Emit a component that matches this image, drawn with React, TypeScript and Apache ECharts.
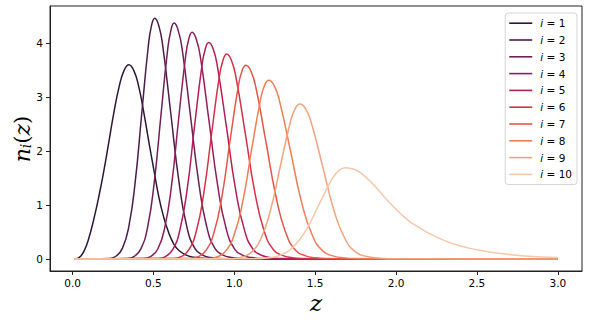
import React, { useEffect, useRef } from "react";
import * as echarts from "echarts";

type Pt = [number, number];

const binNames = ["i = 1", "i = 2", "i = 3", "i = 4", "i = 5", "i = 6", "i = 7", "i = 8", "i = 9", "i = 10"];

const bin1: Pt[] = [[0.01, 0], [0.03, 0.01], [0.05, 0.05], [0.075, 0.17], [0.1, 0.38], [0.13, 0.72], [0.164, 1.18], [0.195, 1.66], [0.225, 2.18], [0.256, 2.72], [0.287, 3.18], [0.318, 3.49], [0.348, 3.6], [0.379, 3.49], [0.41, 3.18], [0.44, 2.72], [0.471, 2.18], [0.502, 1.66], [0.532, 1.17], [0.563, 0.78], [0.594, 0.49], [0.625, 0.28], [0.656, 0.16], [0.7, 0.075], [0.75, 0.03], [0.8, 0.012], [0.9, 0.003], [1.0, 0], [3.0, 0]];
const bin2: Pt[] = [[0.01, 0], [0.228, 0.01], [0.268, 0.05], [0.308, 0.196], [0.348, 0.603], [0.388, 1.448], [0.428, 2.705], [0.468, 3.936], [0.488, 4.323], [0.508, 4.46], [0.533, 4.323], [0.558, 3.936], [0.607, 2.705], [0.657, 1.448], [0.706, 0.603], [0.756, 0.196], [0.805, 0.07], [0.855, 0.025], [0.904, 0.01], [1.0, 0.003], [3.0, 0]];
const bin3: Pt[] = [[0.01, 0], [0.341, 0.01], [0.382, 0.049], [0.423, 0.192], [0.464, 0.591], [0.505, 1.419], [0.546, 2.65], [0.587, 3.857], [0.608, 4.235], [0.628, 4.37], [0.653, 4.235], [0.679, 3.857], [0.729, 2.65], [0.78, 1.419], [0.83, 0.591], [0.881, 0.192], [0.931, 0.07], [0.982, 0.026], [1.032, 0.01], [1.15, 0.003], [3.0, 0]];
const bin4: Pt[] = [[0.01, 0], [0.441, 0.009], [0.484, 0.047], [0.527, 0.184], [0.569, 0.568], [0.612, 1.364], [0.654, 2.547], [0.697, 3.707], [0.718, 4.071], [0.739, 4.2], [0.765, 4.071], [0.792, 3.707], [0.844, 2.547], [0.897, 1.364], [0.949, 0.568], [1.002, 0.184], [1.054, 0.067], [1.107, 0.025], [1.159, 0.009], [1.3, 0.002], [3.0, 0]];
const bin5: Pt[] = [[0.01, 0], [0.531, 0.009], [0.575, 0.045], [0.62, 0.176], [0.664, 0.543], [0.709, 1.302], [0.753, 2.432], [0.798, 3.539], [0.82, 3.886], [0.842, 4.01], [0.87, 3.886], [0.897, 3.539], [0.952, 2.432], [1.007, 1.302], [1.062, 0.543], [1.117, 0.176], [1.172, 0.064], [1.227, 0.024], [1.282, 0.009], [1.45, 0.002], [3.0, 0]];
const bin6: Pt[] = [[0.01, 0], [0.624, 0.008], [0.671, 0.042], [0.718, 0.167], [0.765, 0.514], [0.812, 1.234], [0.859, 2.305], [0.906, 3.354], [0.93, 3.683], [0.953, 3.8], [0.982, 3.683], [1.011, 3.354], [1.069, 2.305], [1.127, 1.234], [1.185, 0.514], [1.243, 0.167], [1.301, 0.061], [1.359, 0.023], [1.417, 0.008], [1.6, 0.002], [3.0, 0]];
const bin7: Pt[] = [[0.01, 0], [0.726, 0.008], [0.775, 0.04], [0.825, 0.158], [0.874, 0.486], [0.924, 1.166], [0.973, 2.177], [1.023, 3.168], [1.047, 3.479], [1.072, 3.59], [1.103, 3.479], [1.134, 3.168], [1.195, 2.177], [1.257, 1.166], [1.318, 0.486], [1.38, 0.158], [1.441, 0.057], [1.503, 0.022], [1.564, 0.008], [1.75, 0.002], [3.0, 0]];
const bin8: Pt[] = [[0.01, 0], [0.839, 0.007], [0.892, 0.037], [0.946, 0.145], [0.999, 0.448], [1.053, 1.075], [1.106, 2.008], [1.16, 2.921], [1.186, 3.208], [1.213, 3.31], [1.247, 3.208], [1.28, 2.921], [1.347, 2.008], [1.414, 1.075], [1.481, 0.448], [1.548, 0.145], [1.615, 0.053], [1.682, 0.02], [1.749, 0.007], [1.95, 0.002], [3.0, 0]];
const bin9: Pt[] = [[0.01, 0], [0.986, 0.006], [1.046, 0.032], [1.106, 0.126], [1.166, 0.388], [1.226, 0.932], [1.286, 1.741], [1.346, 2.533], [1.376, 2.782], [1.406, 2.87], [1.441, 2.782], [1.475, 2.533], [1.544, 1.741], [1.613, 0.932], [1.682, 0.388], [1.751, 0.126], [1.82, 0.046], [1.889, 0.017], [1.958, 0.006], [2.2, 0.002], [3.0, 0]];
const bin10: Pt[] = [[0.01, 0], [1.126, 0.004], [1.206, 0.019], [1.286, 0.074], [1.366, 0.229], [1.446, 0.549], [1.526, 1.025], [1.606, 1.491], [1.646, 1.638], [1.686, 1.69], [1.72, 1.678], [1.76, 1.635], [1.8, 1.55], [1.85, 1.41], [1.9, 1.245], [1.95, 1.075], [2.0, 0.92], [2.05, 0.78], [2.1, 0.66], [2.2, 0.48], [2.3, 0.34], [2.4, 0.24], [2.5, 0.17], [2.6, 0.12], [2.7, 0.082], [2.8, 0.056], [2.9, 0.038], [3.0, 0.026]];

const bins: Pt[][] = [bin1, bin2, bin3, bin4, bin5, bin6, bin7, bin8, bin9, bin10];

const binColors = ["#2a1838", "#4a1c4a", "#6e1f57", "#931c5b", "#b71c56", "#d92f47", "#e95549", "#f27d57", "#f5a37e", "#f7c8ab"];

const xTicks = [0, 0.5, 1, 1.5, 2, 2.5, 3];
const yTicks = [0, 1, 2, 3, 4];

export default function App() {
  const ref = useRef<HTMLDivElement>(null);
  useEffect(() => {
    if (!ref.current) return;
    const chart = echarts.init(ref.current, null, { renderer: "svg" });
    const tickFont = { fontFamily: "DejaVu Sans", fontSize: 10.5, color: "#000" };
    chart.setOption({
      animation: false,
      backgroundColor: "#fff",
      grid: { left: 50, right: 8, top: 6, bottom: 53, show: true, borderColor: "#222", borderWidth: 1, backgroundColor: "transparent" },
      xAxis: {
        type: "value",
        min: -0.1395,
        max: 3.1495,
        axisLine: { show: true, onZero: false, lineStyle: { color: "#222", width: 1 } },
        splitLine: { show: false },
        axisTick: { show: true, length: 4, lineStyle: { color: "#222" }, customValues: xTicks },
        axisLabel: { ...tickFont, margin: 6, customValues: xTicks, formatter: (v: number) => v.toFixed(1) },
      },
      yAxis: {
        type: "value",
        min: -0.2232,
        max: 4.6872,
        axisLine: { show: true, onZero: false, lineStyle: { color: "#222", width: 1 } },
        splitLine: { show: false },
        axisTick: { show: true, length: 4, lineStyle: { color: "#222" }, customValues: yTicks },
        axisLabel: { ...tickFont, margin: 7, customValues: yTicks, formatter: (v: number) => String(v) },
      },
      legend: {
        orient: "vertical",
        right: 13,
        top: 13,
        icon: "rect",
        itemWidth: 23,
        itemHeight: 1.6,
        itemGap: 4.4,
        padding: [4, 5, 4, 4],
        borderColor: "#d4d4d4",
        borderWidth: 1,
        borderRadius: 3,
        backgroundColor: "rgba(255,255,255,0.85)",
        selectedMode: false,
        data: binNames,
        formatter: (name: string) => `{it|i}{t| = ${name.split("= ")[1]}}`,
        textStyle: {
          fontFamily: "DejaVu Sans",
          fontSize: 10.5,
          lineHeight: 12.4,
          color: "#000",
          rich: {
            it: { fontFamily: "DejaVu Sans", fontStyle: "italic", fontSize: 10.5, lineHeight: 12.4, color: "#000", padding: [0, 0, 0, 3] },
            t: { fontFamily: "DejaVu Sans", fontSize: 10.5, lineHeight: 12.4, color: "#000" },
          },
        },
      },
      graphic: [
        {
          type: "text",
          x: 22,
          y: 139,
          rotation: Math.PI / 2,
          style: {
            text: "{n|n}{s|i}{p|(}{n|z}{p|)}",
            align: "center",
            verticalAlign: "middle",
            fill: "#000",
            rich: {
              n: { fontFamily: "DejaVu Serif", fontStyle: "italic", fontSize: 22, lineHeight: 22, verticalAlign: "top", fill: "#000" },
              p: { fontFamily: "DejaVu Serif", fontSize: 21, lineHeight: 22, verticalAlign: "top", fill: "#000" },
              s: { fontFamily: "DejaVu Serif", fontStyle: "italic", fontSize: 14, lineHeight: 14, verticalAlign: "bottom", padding: [12, 0, 0, 0], fill: "#000" },
            },
          },
        },
        {
          type: "text",
          x: 316,
          y: 303,
          style: {
            text: "z",
            align: "center",
            verticalAlign: "middle",
            fontFamily: "DejaVu Serif",
            fontStyle: "italic",
            fontSize: 23,
            fill: "#000",
          },
        },
      ],
      series: bins.map((d, i) => ({
        type: "line",
        name: binNames[i],
        data: d,
        smooth: 0.5,
        symbol: "none",
        showSymbol: false,
        lineStyle: { width: 1.5, color: binColors[i] },
        itemStyle: { color: binColors[i] },
      })),
    });
    return () => chart.dispose();
  }, []);
  return <div ref={ref} style={{ position: "fixed", left: 0, top: 0, width: 590, height: 324 }} />;
}
